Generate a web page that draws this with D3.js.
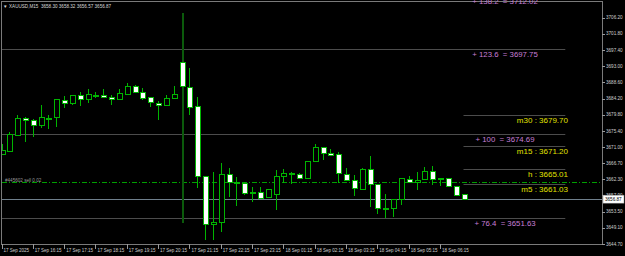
<!DOCTYPE html>
<html>
<head>
<meta charset="utf-8">
<script src="https://cdn.jsdelivr.net/npm/d3@7"></script>
<style>
  html, body { margin: 0; padding: 0; background: #000; }
  svg { display: block; }
  text { font-family: "Liberation Sans", Arial, sans-serif; }
</style>
</head>
<body>
<svg id="chart" width="625" height="256"></svg>
<script>
// XAUUSD M15 bars, 17 Sep 15:15 -> 18 Sep 07:00
const opens = [3669.14,3670.03,3674.38,3678.91,3678.29,3676.82,3678.91,3678.99,3683.80,3682.90,
  3685.16,3683.99,3685.24,3685.16,3684.53,3684.07,3685.43,3687.60,3685.97,3684.53,
  3683.07,3682.25,3684.15,3694.04,3687.41,3682.17,3663.17,3650.05,3650.60,3663.71,
  3661.62,3661.35,3658.63,3658.90,3657.38,3658.20,3663.17,3663.79,3663.79,3662.54,
  3667.16,3670.96,3669.33,3669.06,3663.63,3662.00,3659.55,3664.99,3660.99,3654.21,
  3654.29,3656.84,3662.43,3661.54,3662.27,3664.61,3662.43,3662.54,3660.45,3658.30];
const highs = [3671.85,3675.19,3679.73,3679.10,3678.51,3682.44,3679.73,3684.07,3684.97,3685.16,
  3685.89,3686.79,3686.05,3686.79,3685.16,3686.79,3688.33,3687.74,3686.98,3684.61,
  3683.53,3685.16,3687.60,3707.34,3692.41,3684.53,3663.17,3664.17,3666.70,3665.42,
  3662.98,3661.54,3660.26,3660.10,3659.64,3664.79,3665.07,3664.33,3664.06,3667.16,
  3671.85,3671.04,3670.50,3669.60,3665.42,3663.36,3665.42,3668.60,3660.99,3658.20,
  3656.84,3662.54,3663.17,3664.33,3665.53,3665.88,3662.70,3662.62,3660.58,3658.32];
const lows = [3668.87,3669.95,3674.03,3672.48,3673.84,3676.20,3675.93,3676.55,3681.55,3682.44,
  3682.25,3683.07,3684.26,3684.26,3682.44,3683.94,3685.30,3685.70,3683.72,3681.82,
  3678.37,3682.17,3684.07,3650.49,3679.73,3659.99,3645.79,3645.79,3648.04,3657.38,
  3655.10,3658.01,3656.03,3657.19,3657.38,3653.93,3661.35,3660.91,3662.49,3662.49,
  3667.10,3667.51,3668.73,3661.18,3661.94,3657.74,3659.50,3654.83,3652.85,3651.68,
  3652.12,3655.29,3661.46,3659.36,3662.22,3660.72,3660.45,3660.18,3657.93,3656.57];
const closes = [3670.22,3674.57,3678.99,3678.37,3677.01,3679.10,3678.99,3683.99,3682.90,3685.16,
  3683.99,3685.35,3685.02,3684.61,3683.99,3685.70,3687.60,3685.89,3684.42,3683.07,
  3682.44,3684.26,3685.35,3687.60,3681.98,3663.25,3650.13,3650.68,3663.63,3661.46,
  3661.35,3658.74,3658.90,3657.38,3659.64,3663.17,3663.90,3663.98,3662.62,3667.16,
  3671.04,3669.33,3668.79,3663.79,3662.00,3659.72,3664.99,3660.91,3654.40,3654.48,
  3656.84,3662.54,3661.54,3662.08,3664.44,3662.43,3662.70,3660.26,3658.01,3656.87];

// time axis labels (bar index -> label)
const timeTickIdx = [0, 4, 8, 12, 16, 20, 24, 28, 32, 36, 40, 44, 48, 52, 56];
const timeTickLabels = ["17 Sep 2025", "17 Sep 16:15", "17 Sep 17:15", "17 Sep 18:15", "17 Sep 19:15",
  "17 Sep 20:15", "17 Sep 21:15", "17 Sep 22:15", "17 Sep 23:15", "18 Sep 01:15",
  "18 Sep 02:15", "18 Sep 03:15", "18 Sep 04:15", "18 Sep 05:15", "18 Sep 06:15"];

// price axis labels
const priceTicks = ["3706.20", "3701.80", "3697.40", "3693.00", "3688.60", "3684.20", "3679.80",
  "3675.40", "3671.00", "3666.70", "3662.30", "3657.90", "3653.50", "3649.10", "3644.70"];

// fibonacci expansion levels
const fiboLevels = ["138.2", "123.6", "100", "76.4"];
const fiboPrices = [3712.02, 3697.75, 3674.69, 3651.63];

// pivot style levels
const levelNames = ["m30", "m15", "h", "m5"];
const levelPrices = [3679.70, 3671.20, 3665.01, 3661.03];

// open order
const orderLabel = "#445602 sell 0.02";
const orderPrice = 3661.50;

const title = "XAUUSD,M15  3658.30 3658.32 3656.57 3656.87";
const bid = 3656.87;
const newsBar = 23;

// ---- layout ----
const svg = d3.select("#chart");
const plotLeft = 2, plotRight = 602, plotTop = 2, plotBottom = 244;
const green = "#00b400";

const x = d3.scaleLinear().domain([0, 59]).range([1.5, 463.5]);
const y = d3.scaleLinear().domain([3644.70, 3706.20]).range([244, 17.5]);

svg.append("rect").attr("width", 625).attr("height", 256).attr("fill", "#000");

svg.append("defs").append("clipPath").attr("id", "plot")
  .append("rect").attr("x", plotLeft).attr("y", plotTop)
  .attr("width", plotRight - plotLeft).attr("height", plotBottom - plotTop);

const plot = svg.append("g").attr("clip-path", "url(#plot)");

// fibo lines
plot.selectAll("line.fibo").data(fiboPrices).enter().append("line")
  .attr("x1", plotLeft).attr("x2", x(72))
  .attr("y1", d => Math.round(y(d)) + 0.5).attr("y2", d => Math.round(y(d)) + 0.5)
  .attr("stroke", "#4c4c4c").attr("stroke-width", 1);

// level short lines
plot.selectAll("line.lvl").data(levelPrices).enter().append("line")
  .attr("x1", x(59)).attr("x2", x(72))
  .attr("y1", d => Math.round(y(d)) + 0.5).attr("y2", d => Math.round(y(d)) + 0.5)
  .attr("stroke", "#4c4c4c").attr("stroke-width", 1);

// bid line
plot.append("line")
  .attr("x1", plotLeft).attr("x2", plotRight)
  .attr("y1", Math.round(y(bid)) + 0.5).attr("y2", Math.round(y(bid)) + 0.5)
  .attr("stroke", "#6f7f8c").attr("stroke-width", 1);

// order line
plot.append("line")
  .attr("x1", plotLeft).attr("x2", plotRight)
  .attr("y1", Math.round(y(orderPrice)) + 0.5).attr("y2", Math.round(y(orderPrice)) + 0.5)
  .attr("stroke", "#00a000").attr("stroke-width", 1)
  .attr("stroke-dasharray", "5,2,1,2");

plot.append("text")
  .attr("x", 5).attr("y", y(orderPrice) - 0.5)
  .attr("font-size", 4.6).attr("fill", "#9a9a9a")
  .text(orderLabel);

// candles
const bars = d3.range(opens.length);
const candle = plot.selectAll("g.bar").data(bars).enter().append("g")
  .attr("shape-rendering", "crispEdges");

candle.append("line")
  .attr("x1", i => Math.round(x(i)) + 0.5).attr("x2", i => Math.round(x(i)) + 0.5)
  .attr("y1", i => y(highs[i])).attr("y2", i => y(lows[i]))
  .attr("stroke", i => i === newsBar ? "#0b5a0b" : green)
  .attr("stroke-width", i => i === newsBar ? 2 : 1);

candle.append("rect")
  .attr("x", i => Math.round(x(i)) - 2.5 + 0.5)
  .attr("width", 5)
  .attr("y", i => Math.round(y(Math.max(opens[i], closes[i]))) + 0.5)
  .attr("height", i => Math.max(1, Math.round(Math.abs(y(opens[i]) - y(closes[i])))))
  .attr("fill", i => closes[i] >= opens[i] ? "#000" : "#fff")
  .attr("stroke", green).attr("stroke-width", 1);

// frame
svg.append("rect")
  .attr("x", 1.5).attr("y", 1.5)
  .attr("width", plotRight - 1.5 + 0.5).attr("height", plotBottom - 1.5 + 0.5)
  .attr("fill", "none").attr("stroke", "#7a7a7a").attr("stroke-width", 1);

// fibo labels
svg.selectAll("text.fibo").data(fiboLevels).enter().append("text")
  .attr("x", 505).attr("y", (d, i) => y(fiboPrices[i]) + 8)
  .attr("text-anchor", "middle").attr("font-size", 7.8).attr("fill", "#c77fd6")
  .attr("xml:space", "preserve")
  .text((d, i) => `+ ${d}  = ${fiboPrices[i].toFixed(2)}`);

// level labels
svg.selectAll("text.lvl").data(levelNames).enter().append("text")
  .attr("x", 568).attr("y", (d, i) => y(levelPrices[i]) + 8)
  .attr("text-anchor", "end").attr("font-size", 8).attr("fill", "#e0e000")
  .text((d, i) => `${d} : ${levelPrices[i].toFixed(2)}`);

// price axis
const yAxis = svg.append("g");
yAxis.selectAll("line").data(priceTicks).enter().append("line")
  .attr("x1", plotRight).attr("x2", plotRight + 3)
  .attr("y1", d => Math.round(y(+d)) + 0.5).attr("y2", d => Math.round(y(+d)) + 0.5)
  .attr("stroke", "#9a9a9a");
yAxis.selectAll("text").data(priceTicks).enter().append("text")
  .attr("x", 606).attr("y", d => y(+d) + 1.6)
  .attr("font-size", 4.6).attr("fill", "#cfcfcf")
  .text(d => d);

// current price box
const by = y(bid);
svg.append("rect")
  .attr("x", 603).attr("y", by - 4).attr("width", 21).attr("height", 8)
  .attr("fill", "#fff").attr("stroke", "#888").attr("stroke-width", 0.5);
svg.append("text")
  .attr("x", 605).attr("y", by + 1.6)
  .attr("font-size", 4.6).attr("fill", "#000")
  .text(bid.toFixed(2));

// time axis
const xAxis = svg.append("g");
xAxis.selectAll("line").data(timeTickIdx).enter().append("line")
  .attr("x1", i => Math.round(x(i)) + 0.5).attr("x2", i => Math.round(x(i)) + 0.5)
  .attr("y1", plotBottom).attr("y2", plotBottom + 5)
  .attr("stroke", "#9a9a9a");
xAxis.selectAll("text").data(timeTickIdx).enter().append("text")
  .attr("x", i => x(i) + 2).attr("y", 252)
  .attr("font-size", 4.5).attr("fill", "#cfcfcf")
  .text((d, k) => timeTickLabels[k]);

// title
svg.append("text").attr("x", 3).attr("y", 7.5)
  .attr("font-size", 4.6).attr("fill", "#d8d8d8")
  .text("\u25BC");
svg.append("text").attr("x", 9).attr("y", 7.5)
  .attr("font-size", 4.6).attr("fill", "#d8d8d8")
  .attr("xml:space", "preserve")
  .text(title);
</script>
</body>
</html>
